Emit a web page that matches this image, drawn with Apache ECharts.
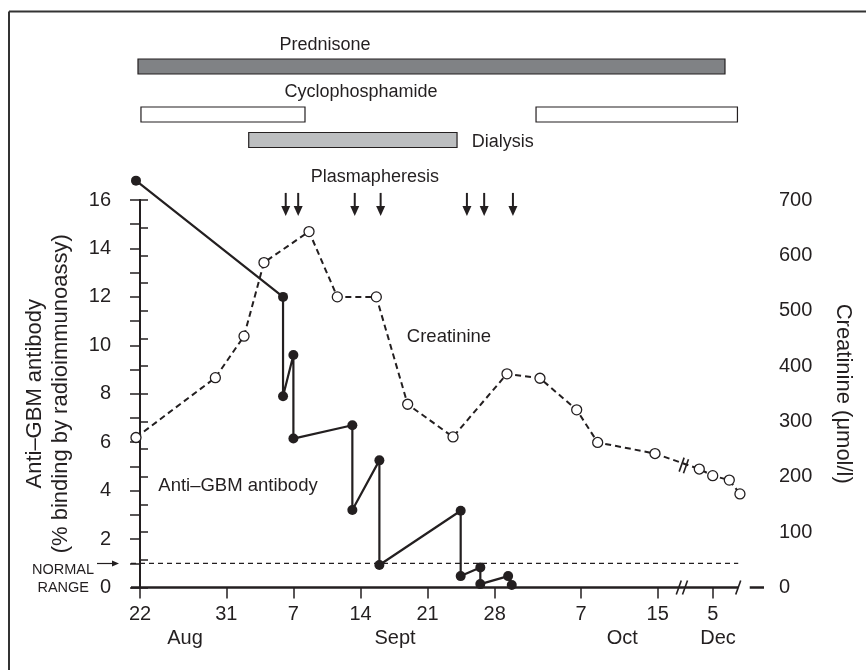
<!DOCTYPE html>
<html><head><meta charset="utf-8">
<script src="https://cdn.jsdelivr.net/npm/echarts@6/dist/echarts.min.js"></script>
<style>html,body{margin:0;padding:0;background:#fff}#c{width:866px;height:670px}</style>
</head><body><div id="c"></div>
<script>
// ---- DATA (x = day position counted from 22 Aug; axis compressed after the Oct/Dec break) ----
const xTickPos    = [0, 9, 16, 23, 30, 37, 46, 54, 59.74];
const xTickLabels = ['22', '31', '7', '14', '21', '28', '7', '15', '5'];
const monthPos    = [4.7, 26.6, 50.3, 60.3];
const monthLabels = ['Aug', 'Sept', 'Oct', 'Dec'];

const antiDays = [-0.42, 14.92, 14.92, 16.0, 16.0, 22.15, 22.15, 24.97, 24.97, 33.45, 33.45, 35.5, 35.5, 38.4, 38.78];
const antiVals = [16.8, 12.0, 7.9, 9.6, 6.15, 6.7, 3.2, 5.25, 0.93, 3.17, 0.47, 0.83, 0.14, 0.47, 0.10];

const creatDays = [-0.42, 7.86, 10.85, 12.93, 17.63, 20.58, 24.65, 27.92, 32.65, 38.28, 41.72, 45.55, 47.74, 53.72, 58.34, 59.74, 61.47, 62.58];
const creatVals = [271, 379, 454, 587, 643, 525, 525, 331, 272, 386, 378, 321, 262, 242, 214, 202, 194, 169];

const plasmaDays = [15.2, 16.5, 22.4, 25.1, 34.1, 35.9, 38.9];

const treatNames = ['Prednisone', 'Cyclophosphamide', 'Cyclophosphamide', 'Dialysis'];
const treatStart = [-0.21, 0.10, 41.31, 11.34];
const treatEnd   = [61.02, 17.21, 62.32, 33.07];

const normalUpper = 1;
const leftTicks  = [0, 16, 2];    // min, max, step
const rightTicks = [0, 700, 100];

const axisBreaks  = [56.2, 56.85];   // "//" on the time axis
const axisEndMark = [62.4];          // "/" at end of axis
const creatBreak  = [[56.5, 222], [56.95, 219]];

// ---- LAYOUT / STYLE ----
const INK = '#231f20';
const FONT = '"Liberation Sans", Arial, Helvetica, sans-serif';
const X_MIN = -0.94, X_MAX = 65.09;
const AXIS_END = 62.4, AXIS_RESUME = 63.6;

function labelAt(pos, labels, v) {
  let b = 0;
  for (let i = 1; i < pos.length; i++) if (Math.abs(pos[i] - v) < Math.abs(pos[b] - v)) b = i;
  return labels[b];
}
const zip = (a, b) => a.map((v, i) => [v, b[i]]);

const laneOf = { 'Prednisone': 1, 'Cyclophosphamide': 2.96, 'Dialysis': 4 };
const fillOf = { 'Prednisone': '#808285', 'Cyclophosphamide': '#ffffff', 'Dialysis': '#bcbec0' };

const topLabels = [
  { text: 'Prednisone', x: 19.3, lane: 0.14, align: 'center' },
  { text: 'Cyclophosphamide', x: 23.05, lane: 2.06, align: 'center' },
  { text: 'Dialysis', x: 34.6, lane: 4.08, align: 'left' },
  { text: 'Plasmapheresis', x: 24.5, lane: 5.53, align: 'center' }
];

function slashItem(params, api) {
  const c = api.coord([api.value(0), api.value(1)]);
  return { type: 'line', shape: { x1: c[0] - 2.5, y1: c[1] + 7, x2: c[0] + 2.5, y2: c[1] - 7 },
           style: { stroke: INK, lineWidth: 1.6 } };
}

const chart = echarts.init(document.getElementById('c'), null, { renderer: 'canvas' });
const option = {
  animation: false,
  backgroundColor: '#fff',
  textStyle: { fontFamily: FONT, color: INK },
  grid: [
    { left: 131, right: 102, top: 200, height: 387.5 },
    { left: 131, right: 102, top: 42, height: 196 }
  ],
  xAxis: [
    { gridIndex: 0, type: 'value', min: X_MIN, max: X_MAX,
      axisLine: { show: false }, splitLine: { show: false },
      axisTick: { show: true, customValues: xTickPos, length: 11, lineStyle: { color: INK, width: 1.5 } },
      axisLabel: { customValues: xTickPos, formatter: v => labelAt(xTickPos, xTickLabels, v),
                   fontSize: 20, color: INK, margin: 17, fontFamily: FONT } },
    { gridIndex: 0, type: 'value', min: X_MIN, max: X_MAX, position: 'bottom', offset: 24,
      axisLine: { show: false }, axisTick: { show: false }, splitLine: { show: false },
      axisLabel: { customValues: monthPos, formatter: v => labelAt(monthPos, monthLabels, v),
                   fontSize: 20, color: INK, margin: 17, fontFamily: FONT } },
    { gridIndex: 1, type: 'value', min: X_MIN, max: X_MAX, show: false }
  ],
  yAxis: [
    { gridIndex: 0, type: 'value', min: leftTicks[0], max: leftTicks[1], interval: leftTicks[2], position: 'left',
      axisLine: { show: true, lineStyle: { color: INK, width: 2 } },
      axisTick: { show: true, length: 10, lineStyle: { color: INK, width: 1.5 } },
      minorTick: { show: true, splitNumber: 2, length: 10, lineStyle: { color: INK, width: 1.5 } },
      splitLine: { show: false },
      axisLabel: { fontSize: 20, color: INK, margin: 20, fontFamily: FONT },
      name: 'Anti–GBM antibody\n(% binding by radioimmunoassy)', nameLocation: 'middle', nameRotate: 90, nameGap: 57,
      nameTextStyle: { fontSize: 22, lineHeight: 26, color: INK, fontFamily: FONT } },
    { gridIndex: 0, type: 'value', min: rightTicks[0], max: rightTicks[1], interval: rightTicks[2], position: 'right',
      axisLine: { show: true, lineStyle: { color: INK, width: 2 } },
      axisTick: { show: true, length: 8, lineStyle: { color: INK, width: 1.5 } },
      minorTick: { show: true, splitNumber: 2, length: 8, lineStyle: { color: INK, width: 1.5 } },
      splitLine: { show: false },
      axisLabel: { fontSize: 20, color: INK, margin: 15, fontFamily: FONT },
      name: 'Creatinine (μmol/l)', nameLocation: 'middle', nameRotate: -90, nameGap: 68,
      nameTextStyle: { fontSize: 22, color: INK, fontFamily: FONT } },
    { gridIndex: 1, type: 'value', min: 0, max: 8, inverse: true, show: false }
  ],
  series: [
    { type: 'line', xAxisIndex: 0, yAxisIndex: 0, data: [[X_MIN, normalUpper], [AXIS_END, normalUpper]],
      symbol: 'none', silent: true, z: 1, lineStyle: { color: INK, width: 1.2, type: [5, 4] } },
    { type: 'line', xAxisIndex: 0, yAxisIndex: 0, data: [[X_MIN, 0], [AXIS_END, 0]], clip: false,
      symbol: 'none', silent: true, z: 3, lineStyle: { color: INK, width: 2.5 } },
    { type: 'line', xAxisIndex: 0, yAxisIndex: 0, data: [[AXIS_RESUME, 0], [X_MAX, 0]], clip: false,
      symbol: 'none', silent: true, z: 3, lineStyle: { color: INK, width: 2.5 } },
    { type: 'custom', xAxisIndex: 0, yAxisIndex: 0, clip: false, z: 4, silent: true,
      data: axisBreaks.concat(axisEndMark).map(d => [d, 0]), renderItem: slashItem },
    { name: 'Creatinine', type: 'line', xAxisIndex: 0, yAxisIndex: 1, data: zip(creatDays, creatVals), clip: false,
      symbol: 'circle', symbolSize: 10, z: 5,
      lineStyle: { color: INK, width: 2, type: [6, 4] },
      itemStyle: { color: '#fff', borderColor: INK, borderWidth: 1.3 } },
    { type: 'custom', xAxisIndex: 0, yAxisIndex: 1, clip: false, z: 6, silent: true,
      data: creatBreak, renderItem: slashItem },
    { name: 'Anti-GBM antibody', type: 'line', xAxisIndex: 0, yAxisIndex: 0, data: zip(antiDays, antiVals), clip: false,
      symbol: 'circle', symbolSize: 10, z: 7,
      lineStyle: { color: INK, width: 2.2 }, itemStyle: { color: INK } },
    { type: 'custom', xAxisIndex: 0, yAxisIndex: 1, clip: false, z: 8, silent: true,
      data: [[32.23, 452.5]],
      renderItem: (p, api) => { const c = api.coord([api.value(0), api.value(1)]);
        return { type: 'text', x: c[0], y: c[1], style: { text: 'Creatinine', fill: INK, fontSize: 18.5, fontFamily: FONT, align: 'center', verticalAlign: 'middle' } }; } },
    { type: 'custom', xAxisIndex: 0, yAxisIndex: 0, clip: false, z: 8, silent: true,
      data: [[10.22, 4.19]],
      renderItem: (p, api) => { const c = api.coord([api.value(0), api.value(1)]);
        return { type: 'text', x: c[0], y: c[1], style: { text: 'Anti–GBM antibody', fill: INK, fontSize: 18.5, fontFamily: FONT, align: 'center', verticalAlign: 'middle' } }; } },
    // treatment bars
    { type: 'custom', xAxisIndex: 2, yAxisIndex: 2, clip: false, silent: true,
      data: treatNames.map((n, i) => [treatStart[i], treatEnd[i], laneOf[n], i]),
      renderItem: (p, api) => {
        const n = treatNames[api.value(3)];
        const s = api.coord([api.value(0), api.value(2)]);
        const e = api.coord([api.value(1), api.value(2)]);
        return { type: 'rect', shape: { x: s[0], y: s[1] - 7.5, width: e[0] - s[0], height: 15 },
                 style: { fill: fillOf[n], stroke: INK, lineWidth: 1.2 } };
      } },
    // treatment labels
    { type: 'custom', xAxisIndex: 2, yAxisIndex: 2, clip: false, silent: true,
      data: topLabels.map((l, i) => [l.x, l.lane, i]),
      renderItem: (p, api) => {
        const l = topLabels[api.value(2)];
        const c = api.coord([api.value(0), api.value(1)]);
        return { type: 'text', x: c[0], y: c[1], style: { text: l.text, fill: INK, fontSize: 18, fontFamily: FONT, align: l.align, verticalAlign: 'middle' } };
      } },
    // plasmapheresis arrows
    { type: 'custom', xAxisIndex: 2, yAxisIndex: 2, clip: false, silent: true,
      data: plasmaDays.map(d => [d]),
      renderItem: (p, api) => {
        const t = api.coord([api.value(0), 6.16]);
        const b = api.coord([api.value(0), 7.1]);
        return { type: 'group', children: [
          { type: 'line', shape: { x1: t[0], y1: t[1], x2: b[0], y2: b[1] - 6 }, style: { stroke: INK, lineWidth: 2 } },
          { type: 'polygon', shape: { points: [[b[0] - 4.5, b[1] - 10], [b[0] + 4.5, b[1] - 10], [b[0], b[1]]] }, style: { fill: INK } }
        ] };
      } }
  ],
  graphic: [
    { type: 'line', shape: { x1: 9, y1: 11.5, x2: 866, y2: 11.5 }, style: { stroke: '#333', lineWidth: 2 } },
    { type: 'line', shape: { x1: 9, y1: 11.5, x2: 9, y2: 670 }, style: { stroke: '#333', lineWidth: 2 } },
    { type: 'text', x: 94, y: 570, style: { text: 'NORMAL', fill: INK, fontSize: 14.5, fontFamily: FONT, align: 'right', verticalAlign: 'middle' } },
    { type: 'text', x: 89, y: 588, style: { text: 'RANGE', fill: INK, fontSize: 14.5, fontFamily: FONT, align: 'right', verticalAlign: 'middle' } },
    { type: 'line', shape: { x1: 97, y1: 563.5, x2: 113, y2: 563.5 }, style: { stroke: INK, lineWidth: 1.2 } },
    { type: 'polygon', shape: { points: [[112, 560.5], [119, 563.5], [112, 566.5]] }, style: { fill: INK } }
  ]
};
chart.setOption(option);
</script>
</body></html>
